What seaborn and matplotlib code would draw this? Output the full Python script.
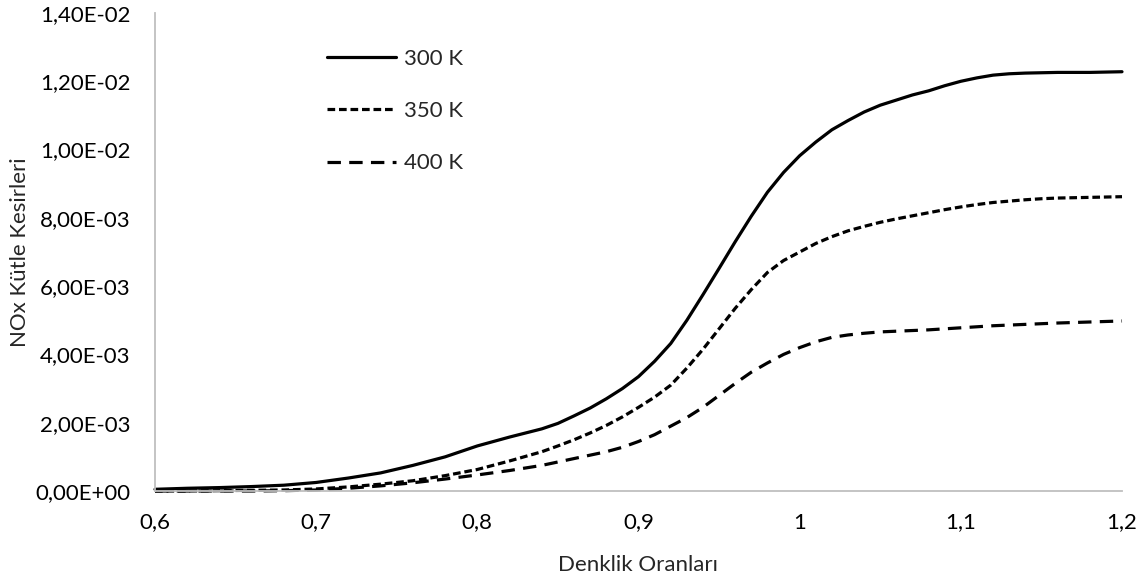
import matplotlib
matplotlib.use("Agg")
import matplotlib.pyplot as plt
import seaborn as sns
import pandas as pd
from matplotlib.ticker import FuncFormatter, MultipleLocator

# Data, NOx mass fraction in units of 1e-3
phi = [0.60, 0.62, 0.64, 0.66, 0.68, 0.70, 0.72, 0.74, 0.76, 0.78, 0.80,
       0.82, 0.84, 0.85, 0.86, 0.87, 0.88, 0.89, 0.90, 0.91, 0.92, 0.93,
       0.94, 0.95, 0.96, 0.97, 0.98, 0.99, 1.00, 1.01, 1.02, 1.03, 1.04,
       1.05, 1.06, 1.07, 1.08, 1.09, 1.10, 1.11, 1.12, 1.13, 1.14, 1.15,
       1.16, 1.18, 1.20]
nox_300 = [0.05, 0.08, 0.10, 0.13, 0.17, 0.25, 0.38, 0.53, 0.75, 1.00, 1.32,
           1.58, 1.82, 1.98, 2.20, 2.43, 2.70, 3.00, 3.35, 3.80, 4.32, 5.00,
           5.75, 6.52, 7.30, 8.05, 8.75, 9.33, 9.82, 10.22, 10.58, 10.85, 11.10,
           11.30, 11.45, 11.60, 11.72, 11.87, 12.00, 12.10, 12.18, 12.22, 12.24, 12.25,
           12.26, 12.26, 12.28]
nox_350 = [0.00, 0.00, 0.01, 0.02, 0.03, 0.06, 0.12, 0.20, 0.30, 0.45, 0.63,
           0.88, 1.15, 1.32, 1.50, 1.70, 1.92, 2.17, 2.45, 2.75, 3.10, 3.60,
           4.15, 4.75, 5.35, 5.90, 6.40, 6.75, 7.00, 7.25, 7.45, 7.62, 7.75,
           7.87, 7.97, 8.06, 8.15, 8.24, 8.32, 8.39, 8.45, 8.49, 8.53, 8.56,
           8.58, 8.60, 8.62]
nox_400 = [0.00, 0.00, 0.00, 0.00, 0.01, 0.03, 0.08, 0.15, 0.24, 0.35, 0.47,
           0.60, 0.75, 0.85, 0.95, 1.05, 1.15, 1.28, 1.45, 1.65, 1.90, 2.15,
           2.45, 2.80, 3.15, 3.48, 3.75, 4.00, 4.20, 4.37, 4.50, 4.57, 4.62,
           4.66, 4.68, 4.70, 4.72, 4.75, 4.78, 4.81, 4.84, 4.86, 4.88, 4.90,
           4.92, 4.95, 4.98]
series_labels = ["300 K", "350 K", "400 K"]
x_ticks = [0.6, 0.7, 0.8, 0.9, 1.0, 1.1, 1.2]

frames = []
for lab, vals in zip(series_labels, [nox_300, nox_350, nox_400]):
    frames.append(pd.DataFrame({"phi": phi,
                                "nox": [v * 1e-3 for v in vals],
                                "seri": lab}))
df = pd.concat(frames, ignore_index=True)

sns.set_style("white")
plt.rcParams["font.family"] = ["Lato", "DejaVu Sans"]
FS = 16

fig = plt.figure(figsize=(11.43, 5.79), dpi=100)
ax = fig.add_axes([155 / 1143, 88 / 579, (1122 - 155) / 1143, (491 - 13) / 579])

dash_map = {"300 K": "", "350 K": (2.4, 1.2), "400 K": (4.2, 2.6)}
sns.lineplot(data=df, x="phi", y="nox", style="seri", dashes=dash_map,
             color="black", linewidth=2.3, ax=ax, legend=True, clip_on=False)
for ln in ax.get_lines():
    ln.set_solid_joinstyle("round")
    ln.set_dash_joinstyle("round")

ax.set_xlim(0.6, 1.2)
ax.set_ylim(0, 0.014)
ax.set_xticks(x_ticks)
ax.yaxis.set_major_locator(MultipleLocator(0.002))
ax.xaxis.set_major_formatter(FuncFormatter(lambda v, p: f"{v:g}".replace(".", ",")))
ax.yaxis.set_major_formatter(FuncFormatter(lambda v, p: f"{v:.2E}".replace(".", ",")))

for s in ["top", "right"]:
    ax.spines[s].set_visible(False)
for s in ["left", "bottom"]:
    ax.spines[s].set_color("#BFBFBF")
    ax.spines[s].set_linewidth(1.3)

ax.tick_params(axis="both", direction="inout", length=10, width=1.3,
               color="#BFBFBF", labelsize=FS, labelcolor="black")
ax.tick_params(axis="x", pad=10.5)
ax.tick_params(axis="y", pad=12.5)

ax.set_xlabel("Denklik Oranları", fontsize=FS, va="center")
ax.set_ylabel("NOx Kütle Kesirleri", fontsize=FS, va="center")
ax.xaxis.set_label_coords(0.5, (491 - 565) / 478)
ax.yaxis.set_label_coords((20 - 155) / 967, 0.5)

handles, labels = ax.get_legend_handles_labels()
leg = ax.legend(handles, labels, loc="upper left",
                bbox_to_anchor=(327 / 1143, 1 - 49 / 579),
                bbox_transform=fig.transFigure, frameon=False,
                fontsize=FS, handlelength=3.1, handletextpad=0.35,
                labelspacing=1.45, borderpad=0, borderaxespad=0)
for h in leg.get_lines():
    h.set_linewidth(2.3)

fig.savefig("out.png", dpi=100)
